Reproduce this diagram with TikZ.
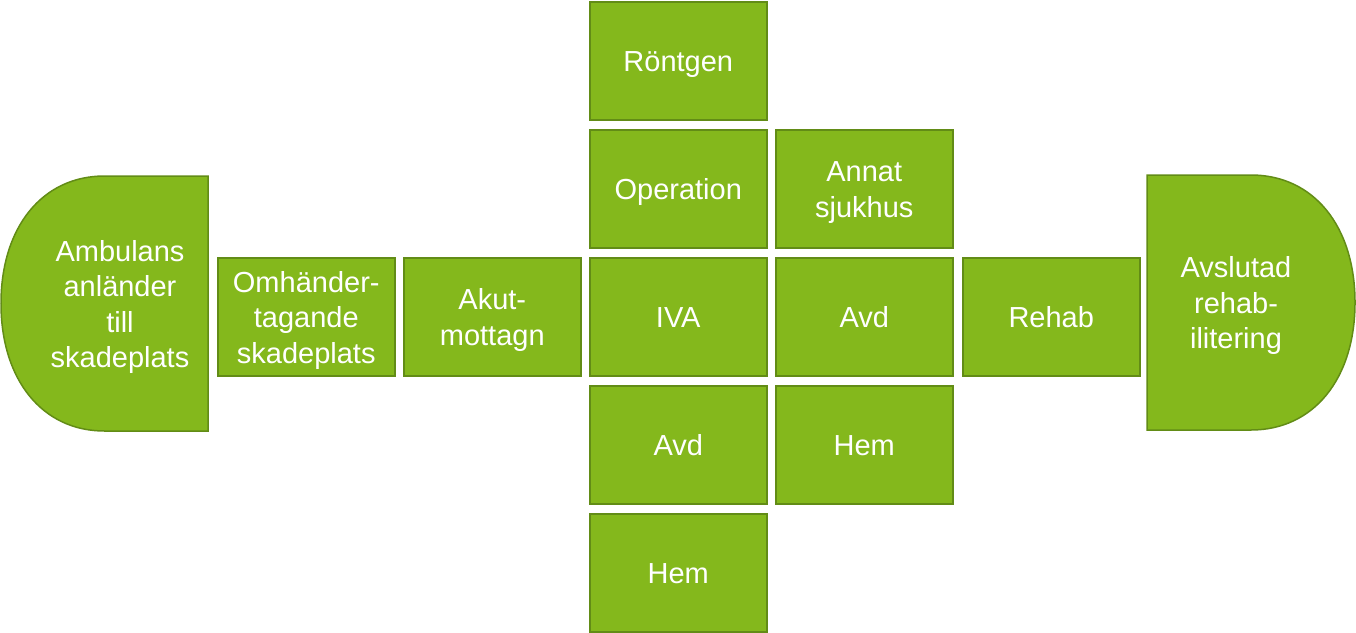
\documentclass[tikz,border=0pt]{standalone}
\usepackage{fontspec}
\setmainfont{Liberation Sans}
\definecolor{boxfill}{RGB}{132,184,28}
\definecolor{boxline}{RGB}{98,140,22}
\newcommand\lstrut{\rule[-6pt]{0pt}{34pt}}
\begin{document}
\begin{tikzpicture}[x=1pt,y=-1pt,
  lbl/.style={text=white,align=center,font=\fontsize{29}{35.5}\selectfont,
    execute at end node=\lstrut,inner sep=0pt},
  boxnode/.style={lbl,draw=boxline,fill=boxfill,line width=1.5pt,anchor=north west,
    minimum width=177pt,minimum height=118pt},
  dshape/.style={draw=boxline,fill=boxfill,line width=1.5pt}]
\useasboundingbox (0,0) rectangle (1356,632);
% left D shape
\draw[dshape] (208,176) -- (104.5,176)
  .. controls (42.4,176) and (1,227) .. (1,303.5)
  .. controls (1,380) and (42.4,431) .. (104.5,431) -- (208,431) -- cycle;
\node[lbl] (amb) at (120,303.5) {\lstrut Ambulans\\anländer\\till\\skadeplats};
% right D shape
\draw[dshape] (1147,175) -- (1251,175)
  .. controls (1313.4,175) and (1355,226) .. (1355,302.5)
  .. controls (1355,379) and (1313.4,430) .. (1251,430) -- (1147,430) -- cycle;
\node[lbl] (avsl) at (1236,302.5) {\lstrut Avslutad\\rehab-\\ilitering};
% boxes
\node[boxnode] (omh) at (217,257) {\lstrut Omhänder-\\tagande\\skadeplats};
\node[boxnode] (akut) at (403,257) {\lstrut Akut-\\mottagn};
\node[boxnode] (rontgen) at (589,1) {\lstrut Röntgen};
\node[boxnode] (oper) at (589,129) {\lstrut Operation};
\node[boxnode] (iva) at (589,257) {\lstrut IVA};
\node[boxnode] (avd1) at (589,385) {\lstrut Avd};
\node[boxnode] (hem1) at (589,513) {\lstrut Hem};
\node[boxnode] (annat) at (775,129) {\lstrut Annat\\sjukhus};
\node[boxnode] (avd2) at (775,257) {\lstrut Avd};
\node[boxnode] (hem2) at (775,385) {\lstrut Hem};
\node[boxnode] (rehab) at (962,257) {\lstrut Rehab};
\end{tikzpicture}
\end{document}
